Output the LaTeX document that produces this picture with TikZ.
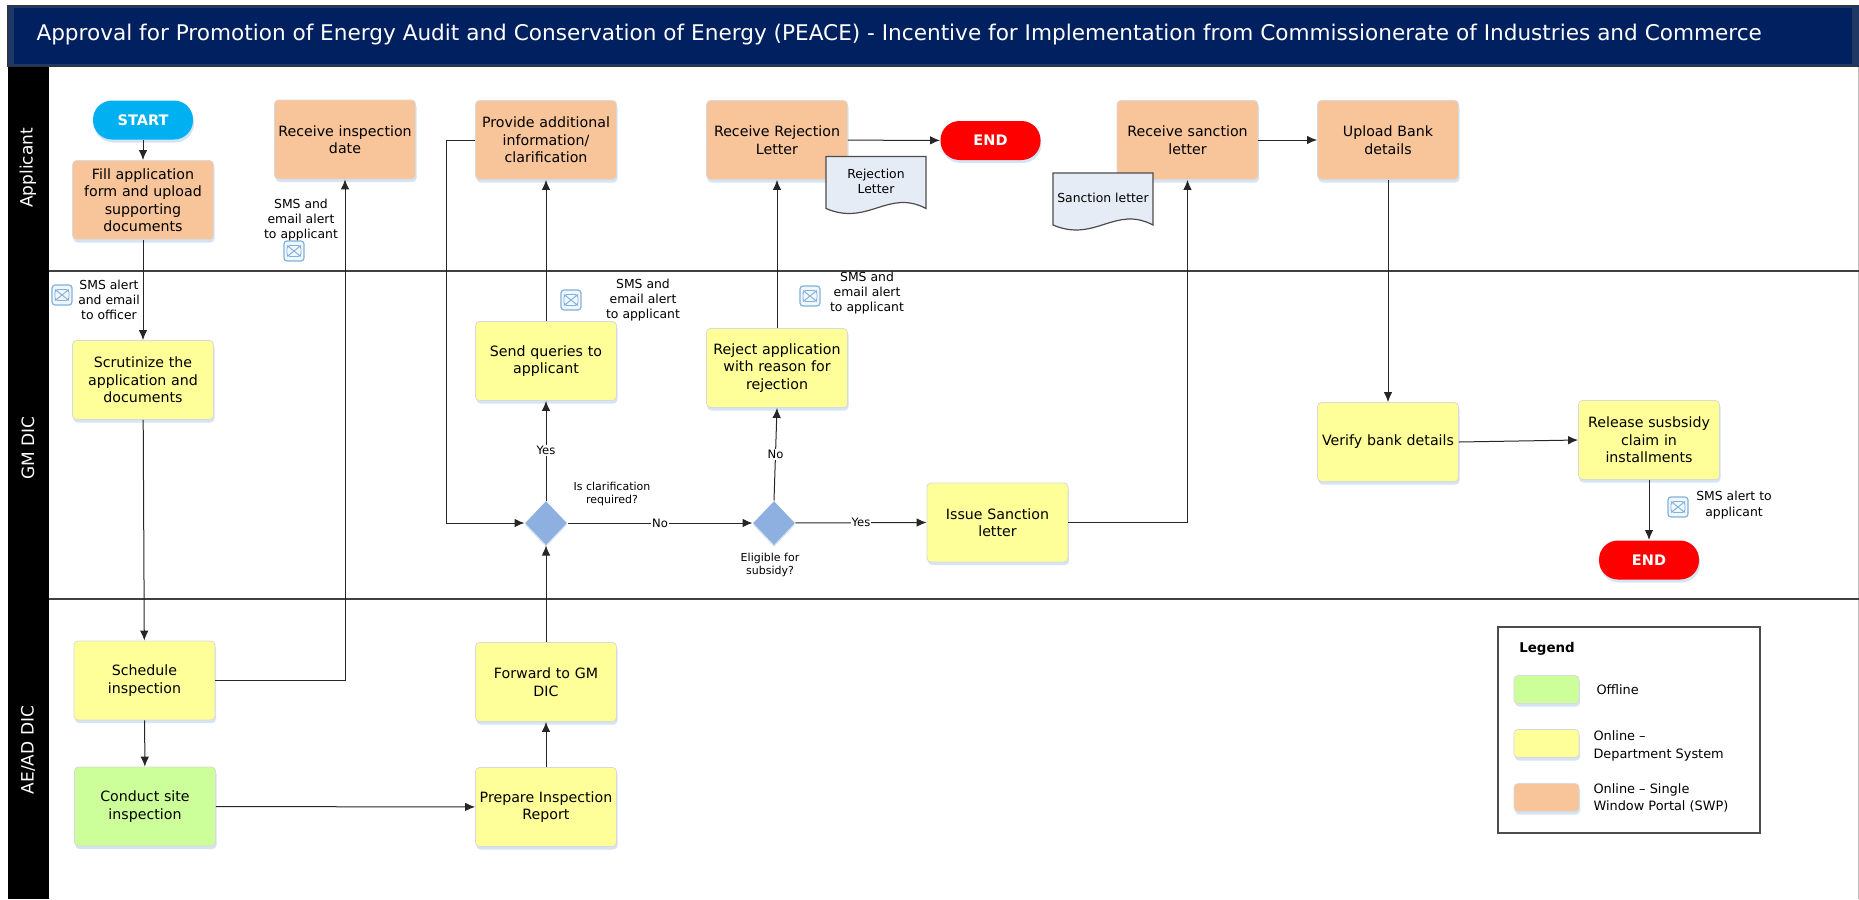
\documentclass[tikz,border=0pt]{standalone}
\usepackage{fontspec}
\setmainfont{DejaVu Sans}
\usetikzlibrary{arrows.meta, shapes.geometric, shadows, calc}

\definecolor{navy}{HTML}{002060}
\definecolor{navyedge}{HTML}{1F3864}
\definecolor{portal}{HTML}{F8C499}
\definecolor{dept}{HTML}{FFFF99}
\definecolor{offline}{HTML}{CCFF99}
\definecolor{startblue}{HTML}{00B0F0}
\definecolor{gate}{HTML}{8DB0E0}
\definecolor{paper}{HTML}{E6ECF6}
\definecolor{mailblue}{HTML}{7FB2DC}
\definecolor{wire}{HTML}{262626}
\definecolor{softshadow}{HTML}{D5E3F3}

% document with a wavy foot, anchored at its top left corner
\newcommand{\letterdoc}[4]{
  \draw[docline] (#2, #3) -- ++(100, 0) -- ++(0, 52)
    .. controls ($(#2, #3) + (62, 32)$) and ($(#2, #3) + (42, 70)$) .. ($(#2, #3) + (0, 52)$) -- cycle;
  \node [notelabel, font = \fontsize{12.4}{15}\selectfont] (#1) at ($(#2, #3) + (50, 25)$) {#4};
}

\begin{document}
\begin{tikzpicture}[x = 1pt, y = -1pt, line width = 1pt,
    stepbox/.style = {rectangle, rounded corners = 4pt, draw = black!15, line width = 0.8pt,
                      minimum width = 141pt, minimum height = 79pt, inner sep = 1pt, align = center,
                      text width = 139pt, font = \fontsize{14.2}{17.5}\selectfont,
                      drop shadow = {shadow xshift = 1pt, shadow yshift = -3pt, fill = softshadow, opacity = 1}},
    portalbox/.style = {stepbox, fill = portal},
    deptbox/.style = {stepbox, fill = dept},
    offlinebox/.style = {stepbox, fill = offline},
    terminal/.style = {rectangle, rounded corners = 19pt, minimum width = 100pt, minimum height = 39pt,
                       inner sep = 0pt, text = white, font = \fontsize{14.5}{15}\bfseries\selectfont,
                       drop shadow = {shadow xshift = 1pt, shadow yshift = -3pt, fill = softshadow, opacity = 1}},
    gatebox/.style = {diamond, fill = gate, minimum width = 42pt, minimum height = 44pt, inner sep = 0pt,
                      aspect = 1, drop shadow = {shadow xshift = 0pt, shadow yshift = -2pt, fill = softshadow, opacity = 1}},
    notelabel/.style = {align = center, inner sep = 0pt, font = \fontsize{12.4}{15.3}\selectfont},
    gatelabel/.style = {align = center, inner sep = 0pt, font = \fontsize{11}{13.7}\selectfont},
    onlabel/.style = {fill = white, inner sep = 1pt, font = \fontsize{11.6}{12}\selectfont},
    lanelabel/.style = {rotate = 90, text = white, inner sep = 0pt, font = \fontsize{17}{18}\selectfont},
    legendlabel/.style = {anchor = west, align = left, inner sep = 0pt, font = \fontsize{12.9}{17.5}\selectfont},
    swatch/.style = {minimum width = 65pt, minimum height = 28pt, text width = 60pt},
    docline/.style = {draw = black!70, fill = paper, line width = 1.2pt},
    conn/.style = {draw = wire, -{Latex[length = 10pt, width = 8.5pt]}},
    mailbox/.style = {rectangle, rounded corners = 3pt, draw = mailblue, fill = paper!50, line width = 1.2pt,
                      minimum size = 20pt, inner sep = 0pt,
                      path picture = {
                        \draw[mailblue, line width = 0.9pt]
                          ($(path picture bounding box.center) + (-7, -5.5)$) rectangle ($(path picture bounding box.center) + (7, 5.5)$)
                          ($(path picture bounding box.center) + (-7, -5.5)$) -- ($(path picture bounding box.center) + (7, 5.5)$)
                          ($(path picture bounding box.center) + (7, -5.5)$) -- ($(path picture bounding box.center) + (-7, 5.5)$);
                      }}]
  \useasboundingbox (0, 0) rectangle (1859, 899);

  % frame and lanes
  \draw[black!25, line width = 0.8pt] (1858, 66) -- (1858, 899);
  \fill[black] (7.5, 66) rectangle (48.5, 899);
  \draw[black!80, fill = navyedge] (7.5, 6) rectangle (1859, 66);
  \fill[navy] (14, 8) rectangle (1852, 64.5);
  \draw[black!75, line width = 1.5pt] (48.5, 271) -- (1859, 271);
  \draw[black!75, line width = 1.5pt] (48.5, 599) -- (1859, 599);

  \node [text = white, anchor = west, inner sep = 0pt, font = \fontsize{21.6}{24}\selectfont] (title) at (36, 34.5)
    {Approval for Promotion of Energy Audit and Conservation of Energy (PEACE) - Incentive for Implementation from Commissionerate of Industries and Commerce};
  \node [lanelabel] (laneA) at (28, 168) {Applicant};
  \node [lanelabel] (laneB) at (28, 448) {GM DIC};
  \node [lanelabel] (laneC) at (28, 750) {AE/AD DIC};

  % applicant lane
  \node [terminal, fill = startblue] (start) at (143, 120) {START};
  \node [portalbox] (fillForm) at (143, 200) {Fill application\\form and upload\\supporting\\documents};
  \node [portalbox] (recvDate) at (345, 139.5) {Receive inspection\\date};
  \node [portalbox] (provide) at (546, 140) {Provide additional\\information/\\clarification};
  \node [portalbox] (recvReject) at (777, 140) {Receive Rejection\\Letter};
  \node [terminal, fill = red] (endA) at (990.5, 140.5) {END};
  \node [portalbox] (recvSanction) at (1187.5, 140) {Receive sanction\\letter};
  \node [portalbox] (upload) at (1388, 140) {Upload Bank\\details};

  % gm dic lane
  \node [deptbox] (scrutinize) at (143, 380) {Scrutinize the\\application and\\documents};
  \node [deptbox] (queries) at (546, 361) {Send queries to\\applicant};
  \node [deptbox] (reject) at (777, 368) {Reject application\\with reason for\\rejection};
  \node [gatebox] (clarGate) at (546, 523) {};
  \node [gatebox] (eligGate) at (774, 523) {};
  \node [deptbox] (issue) at (997.5, 522.5) {Issue Sanction\\letter};
  \node [deptbox] (verify) at (1388, 442) {Verify bank details};
  \node [deptbox] (release) at (1649, 440) {Release susbsidy\\claim in\\installments};
  \node [terminal, fill = red] (endB) at (1649, 560) {END};

  % ae/ad dic lane
  \node [deptbox] (schedule) at (144.5, 680.5) {Schedule\\inspection};
  \node [offlinebox] (conduct) at (145, 806.5) {Conduct site\\inspection};
  \node [deptbox] (forward) at (546, 682) {Forward to GM\\DIC};
  \node [deptbox] (prepare) at (546, 807) {Prepare Inspection\\Report};

  \coordinate (bendQ) at (446, 140);

  \draw[conn] (start) -- (fillForm);
  \draw[conn] (fillForm) -- (scrutinize);
  \draw[conn] (scrutinize) -- (schedule);
  \draw[conn] (schedule) -- (conduct);
  \draw[conn] (schedule.east) -| (recvDate.south);
  \draw[conn] (conduct) -- (prepare);
  \draw[conn] (prepare) -- (forward);
  \draw[conn] (forward) -- (clarGate);
  \draw[conn] (clarGate) -- node [onlabel] {Yes} (queries);
  \draw[conn] (queries) -- (provide);
  \draw[conn] (provide.west) -- (bendQ) |- (clarGate.west);
  \draw[conn] (clarGate) -- node [onlabel] {No} (eligGate);
  \draw[conn] (eligGate.north) -- node [onlabel] {No} (reject.south);
  \draw[conn] (reject) -- (recvReject);
  \draw[conn] (recvReject) -- (endA);
  \draw[conn] (eligGate) -- node [onlabel] {Yes} (issue.west);
  \draw[conn] (issue.east) -| (recvSanction.south);
  \draw[conn] (recvSanction) -- (upload);
  \draw[conn] (upload) -- (verify);
  \draw[conn] (verify.east) -- (release.west);
  \draw[conn] (release) -- (endB);

  \letterdoc{rejectDoc}{826}{156.5}{Rejection\\Letter}
  \letterdoc{sanctionDoc}{1053}{173}{Sanction letter}

  % alerts
  \node [notelabel] (noteA) at (301, 220) {SMS and\\email alert\\to applicant};
  \node [notelabel] (noteB) at (109, 300) {SMS alert\\and email\\to officer};
  \node [notelabel] (noteC) at (643, 300) {SMS and\\email alert\\to applicant};
  \node [notelabel] (noteD) at (867, 293) {SMS and\\email alert\\to applicant};
  \node [notelabel] (noteE) at (1734, 505) {SMS alert to\\applicant};
  \node [mailbox] (mailA) at (294, 251) {};
  \node [mailbox] (mailB) at (62, 295) {};
  \node [mailbox] (mailC) at (571, 300) {};
  \node [mailbox] (mailD) at (810, 296) {};
  \node [mailbox] (mailE) at (1678, 507) {};
  \node [gatelabel] (clarText) at (612, 494) {Is clarification\\required?};
  \node [gatelabel] (eligText) at (770, 565) {Eligible for\\subsidy?};

  % legend
  \node [draw = black!70, fill = white, line width = 1.5pt, minimum width = 262pt, minimum height = 206pt, inner sep = 0pt] (legend) at (1629, 730) {};
  \node [inner sep = 0pt, font = \fontsize{13.4}{14}\bfseries\selectfont] (legendTitle) at (1547, 649) {Legend};
  \node [offlinebox, swatch] (swOff) at (1546.5, 689.5) {};
  \node [deptbox, swatch] (swDept) at (1546.5, 743.5) {};
  \node [portalbox, swatch] (swPortal) at (1546.5, 797.5) {};
  \node [legendlabel] (txtOff) at (1596, 689.5) {Offline};
  \node [legendlabel] (txtDept) at (1593, 746) {Online –\\Department System};
  \node [legendlabel] (txtPortal) at (1593, 798) {Online – Single\\Window Portal (SWP)};
\end{tikzpicture}
\end{document}
